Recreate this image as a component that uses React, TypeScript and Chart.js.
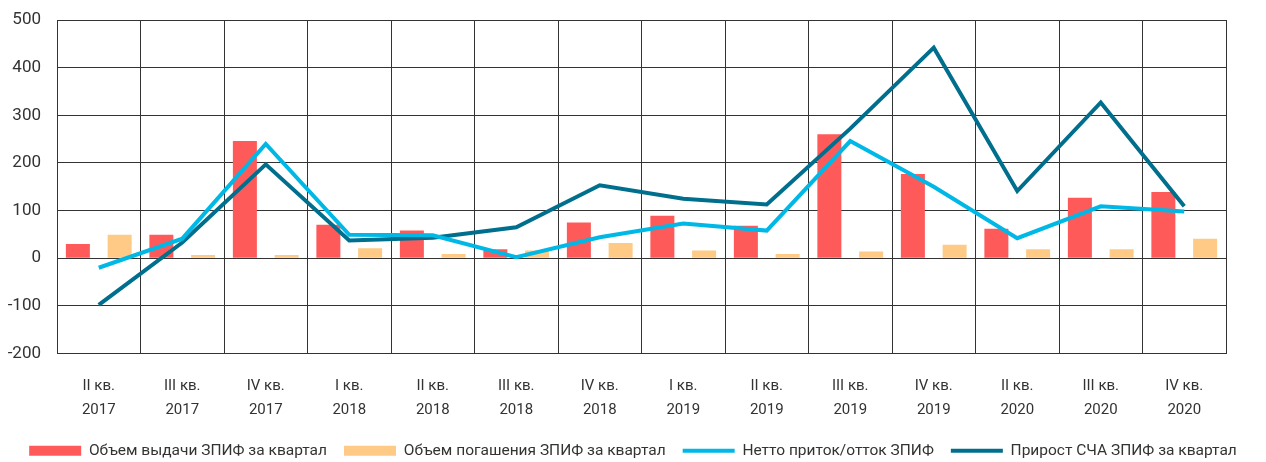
import React, { useEffect, useRef } from "react";
import { Chart, registerables } from "chart.js";

Chart.register(...registerables);

const categories: string[][] = [
  ["II кв.", "2017"],
  ["III кв.", "2017"],
  ["IV кв.", "2017"],
  ["I кв.", "2018"],
  ["II кв.", "2018"],
  ["III кв.", "2018"],
  ["IV кв.", "2018"],
  ["I кв.", "2019"],
  ["II кв.", "2019"],
  ["III кв.", "2019"],
  ["IV кв.", "2019"],
  ["II кв.", "2020"],
  ["III кв.", "2020"],
  ["IV кв.", "2020"],
];

const issuance: number[] = [30, 49, 246, 70, 58, 19, 75, 89, 68, 260, 177, 62, 127, 139];
const redemption: number[] = [49, 7, 7, 21, 9, 16, 32, 16, 9, 14, 28, 19, 19, 41];
const netFlow: number[] = [-20, 41, 240, 49, 48, 2, 44, 73, 58, 246, 150, 42, 109, 98];
const navGrowth: number[] = [-98, 33, 197, 37, 43, 65, 153, 125, 113, 272, 442, 141, 327, 109];

const seriesNames: string[] = [
  "Объем выдачи ЗПИФ за квартал",
  "Объем погашения ЗПИФ за квартал",
  "Нетто приток/отток ЗПИФ",
  "Прирост СЧА ЗПИФ за квартал",
];

const yMin = -200;
const yMax = 500;
const yStep = 100;

const FONT = "Roboto";
const TEXT = "#333333";
const GRID = "#333333";

export default function App() {
  const ref = useRef<HTMLCanvasElement | null>(null);

  useEffect(() => {
    if (!ref.current) return;
    const chart = new Chart(ref.current, {
      type: "bar",
      data: {
        labels: categories,
        datasets: [
          {
            type: "bar",
            label: seriesNames[0],
            data: issuance,
            backgroundColor: "#FF5A5A",
            borderWidth: 0,
            order: 3,
          } as any,
          {
            type: "bar",
            label: seriesNames[1],
            data: redemption,
            backgroundColor: "#FFCA85",
            borderWidth: 0,
            order: 3,
          } as any,
          {
            type: "line",
            label: seriesNames[2],
            data: netFlow,
            borderColor: "#00B8E6",
            backgroundColor: "#00B8E6",
            borderWidth: 4,
            pointRadius: 0,
            pointStyle: "line",
            tension: 0,
            order: 1,
          } as any,
          {
            type: "line",
            label: seriesNames[3],
            data: navGrowth,
            borderColor: "#006F8E",
            backgroundColor: "#006F8E",
            borderWidth: 4,
            pointRadius: 0,
            pointStyle: "line",
            tension: 0,
            order: 2,
          } as any,
        ],
      },
      options: {
        animation: false,
        responsive: true,
        maintainAspectRatio: false,
        layout: { padding: { left: 0, right: 0, top: 20, bottom: -6.5 } },
        datasets: {
          bar: { categoryPercentage: 1, barPercentage: 0.575 },
        } as any,
        scales: {
          x: {
            grid: { color: GRID, lineWidth: 1, drawTicks: false, offset: true },
            border: { color: GRID, width: 1 },
            ticks: {
              color: TEXT,
              font: { family: FONT, size: 15, lineHeight: 1.55 },
              padding: 21.5,
              maxRotation: 0,
              autoSkip: false,
            },
            afterFit: (s: any) => {
              s.height = 72.5;
            },
          },
          y: {
            min: yMin,
            max: yMax,
            grid: {
              color: GRID,
              lineWidth: 1,
              drawTicks: true,
              tickLength: 13,
              tickColor: "rgba(0,0,0,0)",
            },
            border: { color: GRID, width: 1 },
            ticks: {
              stepSize: yStep,
              color: TEXT,
              font: { family: FONT, size: 17 },
              padding: 3,
            },
            afterFit: (s: any) => {
              s.width = 57;
            },
          },
          yRight: {
            position: "right",
            min: yMin,
            max: yMax,
            grid: { display: false, drawTicks: false },
            border: { display: false },
            ticks: { display: false },
            afterFit: (s: any) => {
              s.width = 40;
            },
          },
        },
        plugins: {
          tooltip: { enabled: false },
          legend: {
            position: "bottom",
            labels: {
              color: TEXT,
              font: { family: FONT, size: 15.5 },
              usePointStyle: true,
              pointStyleWidth: 52,
              boxHeight: 10,
              padding: 17,
              sort: (a: any, b: any) => a.datasetIndex - b.datasetIndex,
              generateLabels: (c: any) => {
                const items = Chart.defaults.plugins.legend.labels.generateLabels(c);
                return items.map((it: any) => {
                  const ds: any = c.data.datasets[it.datasetIndex];
                  if (ds.type === "line") {
                    return { ...it, pointStyle: "line", lineWidth: 4, strokeStyle: ds.borderColor };
                  }
                  return { ...it, pointStyle: "rect", lineWidth: 0, strokeStyle: ds.backgroundColor };
                });
              },
            },
          },
        },
      },
    });
    return () => chart.destroy();
  }, []);

  return (
    <div style={{ position: "fixed", left: 0, top: 0, width: 1266, height: 462, background: "#fff" }}>
      <canvas ref={ref} />
    </div>
  );
}
